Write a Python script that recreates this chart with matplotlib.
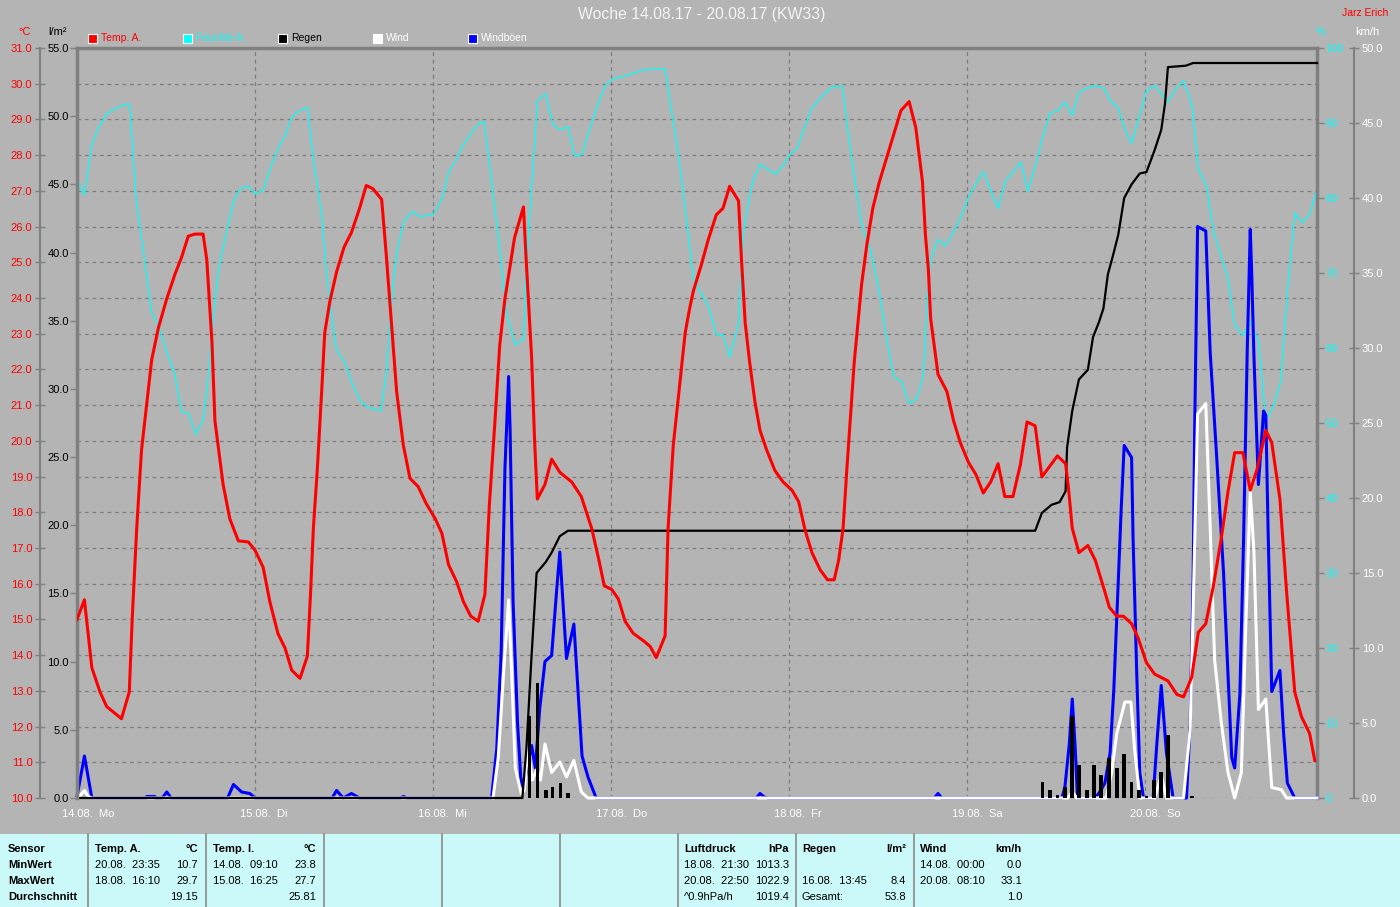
import matplotlib
matplotlib.use('Agg')
import matplotlib.pyplot as plt
from matplotlib.patches import Rectangle
from matplotlib.lines import Line2D
from matplotlib.transforms import ScaledTranslation
import numpy as np

# ---------------- data (hours since 14.08. 00:00) ----------------
day_labels = ['14.08.  Mo', '15.08.  Di', '16.08.  Mi', '17.08.  Do',
              '18.08.  Fr', '19.08.  Sa', '20.08.  So']

temp_h = [0, 1.0, 2.0, 3.1, 4.0, 6.0, 7.05, 7.46, 8.05, 8.7, 9.4, 10.07, 10.97, 12.1, 13.2,
          14.1, 15.0, 15.9, 17.0, 17.5, 18.2, 18.6, 19.2, 19.7, 20.6, 21.75, 23.1, 24.0, 25.1,
          26.0, 27.1, 28.05, 28.95, 30.07, 31.06, 31.5, 31.87, 32.4, 32.99, 33.4, 34.1, 35.0,
          36.0, 37.0, 38.1, 39.0, 39.9, 41.08, 41.7, 42.4, 43.1, 44.0, 44.9, 46.0, 47.1, 48.3,
          49.2, 50.1, 51.2, 52.1, 53.1, 54.1, 55.0, 55.6, 56.36, 57.0, 57.7, 59.0, 60.2, 60.6,
          61.3, 61.7, 62.07, 63.1, 64.0, 65.1, 66.7, 68.0, 69.4, 70.3, 71.1, 72.1, 73.0, 73.9,
          75.0, 76.4, 77.3, 78.1, 79.3, 79.7, 80.4, 81.1, 82.0, 82.6, 83.1, 84.2, 85.1, 86.2,
          87.1, 88.0, 89.2, 89.6, 90.1, 90.7, 91.4, 92.1, 93.0, 94.1, 95.2, 96.4, 97.3, 98.2,
          99.1, 100.2, 101.2, 102.1, 102.7, 103.3, 103.8, 104.3, 104.8, 105.3, 105.8, 106.5,
          107.3, 108.2, 109.4, 110.3, 111.1, 112.2, 113.1, 114.0, 114.4, 114.8, 115.1, 115.7,
          116.1, 117.3, 118.2, 119.1, 120.2, 121.2, 122.2, 123.2, 124.2, 125.1, 126.2, 127.2,
          128.1, 129.2, 130.1, 131.2, 132.2, 133.3, 133.7, 134.2, 135.1, 136.3, 137.3, 138.5,
          139.2, 140.2, 141.1, 142.2, 143.1, 144.2, 145.3, 147.1, 148.3, 149.2, 150.3, 151.2,
          152.2, 153.2, 154.3, 155.2, 156.1, 157.2, 158.2, 159.1, 160.3, 161.1, 162.2, 163.1,
          164.2, 165.1, 166.2, 166.9]
temp_c = [15.0, 15.55, 13.65, 12.97, 12.56, 12.22, 12.97, 15.09, 17.55, 19.74, 21.04, 22.27,
          23.16, 23.98, 24.66, 25.14, 25.73, 25.79, 25.79, 25.07, 22.75, 20.56, 19.6, 18.78,
          17.82, 17.2, 17.17, 16.94, 16.46, 15.5, 14.6, 14.2, 13.58, 13.35, 13.97, 15.77, 17.55,
          19.19, 21.38, 23.02, 23.91, 24.73, 25.42, 25.83, 26.51, 27.15, 27.06, 26.76, 25.21,
          23.3, 21.38, 19.88, 18.95, 18.72, 18.24, 17.82, 17.41, 16.53, 16.05, 15.5, 15.09,
          14.95, 15.7, 18.2, 20.56, 22.68, 23.98, 25.69, 26.55, 24.94, 22.34, 20.01, 18.37,
          18.78, 19.49, 19.12, 18.85, 18.44, 17.55, 16.73, 15.94, 15.84, 15.57, 14.95, 14.61,
          14.4, 14.24, 13.93, 14.54, 17.55, 19.88, 21.24, 23.02, 23.7, 24.19, 24.94, 25.62,
          26.33, 26.51, 27.13, 26.72, 25.07, 23.3, 22.2, 21.11, 20.29, 19.74, 19.17, 18.85,
          18.62, 18.3, 17.48, 16.87, 16.39, 16.11, 16.11, 16.66, 17.55, 19.19, 20.7, 22.2,
          23.3, 24.39, 25.49, 26.51, 27.26, 28.08, 28.7, 29.25, 29.5, 28.77, 27.26, 25.76,
          24.8, 23.43, 22.48, 21.86, 21.38, 20.56, 19.95, 19.4, 19.06, 18.54, 18.85, 19.36,
          18.44, 18.44, 19.33, 20.53, 20.42, 18.99, 19.3, 19.58, 19.36, 18.65, 17.55, 16.87,
          17.07, 16.66, 15.84, 15.34, 15.09, 15.09, 14.88, 14.47, 13.79, 13.47, 13.28, 12.9,
          12.83, 13.38, 14.64, 14.88, 15.91, 17.28, 18.58, 19.67, 19.67, 18.62, 19.19, 20.29,
          19.95, 18.37, 15.77, 12.97, 12.28, 11.81, 11.05]

hum_h = [0, 1.0, 2.0, 2.9, 4.0, 5.1, 6.5, 7.1, 8.0, 9.2, 10.0, 11.0, 12.1, 13.1, 14.1, 15.0,
         16.0, 17.0, 17.7, 18.4, 19.1, 20.2, 21.1, 22.0, 23.1, 24.0, 25.1, 26.0, 27.0, 28.1,
         28.9, 30.1, 31.1, 31.9, 33.0, 33.7, 34.1, 35.0, 36.1, 37.0, 38.2, 39.1, 40.1, 41.0,
         41.7, 42.2, 42.7, 43.2, 44.1, 45.3, 46.3, 48.1, 49.3, 50.1, 51.0, 51.9, 53.0, 54.1,
         54.9, 55.9, 57.0, 57.9, 59.1, 60.2, 60.6, 61.3, 62.1, 63.2, 64.1, 65.1, 66.2, 67.1,
         68.1, 69.3, 70.4, 71.3, 72.3, 74.3, 76.4, 79.3, 80.0, 81.1, 82.2, 83.1, 84.2, 85.1,
         86.2, 87.1, 88.0, 89.2, 89.8, 90.3, 91.2, 92.1, 93.2, 94.2, 95.2, 96.1, 97.1, 98.2,
         99.1, 100.2, 101.2, 102.1, 103.2, 103.8, 104.7, 105.8, 107.0, 108.1, 109.2, 110.1,
         111.2, 112.2, 113.2, 114.1, 114.7, 115.1, 116.1, 117.1, 118.2, 119.2, 120.2, 121.2,
         122.2, 123.2, 124.2, 125.2, 126.3, 127.3, 128.2, 129.2, 130.2, 131.2, 132.3, 133.2,
         134.2, 135.1, 136.1, 137.3, 138.5, 139.3, 140.4, 141.3, 142.2, 143.1, 144.2, 145.3,
         146.2, 147.1, 148.2, 149.2, 150.3, 151.2, 152.3, 153.2, 154.2, 155.2, 156.1, 157.2,
         158.2, 159.3, 160.3, 161.3, 162.3, 163.3, 164.2, 165.2, 166.3, 167.1]
hum_pct = [82.5, 80.4, 87.1, 89.4, 91.2, 91.9, 92.5, 92.5, 79.6, 71.1, 64.9, 63.0, 59.4, 56.8,
           51.5, 51.3, 48.5, 50.3, 56.2, 64.6, 70.5, 75.7, 79.6, 81.2, 81.6, 80.6, 81.0, 83.8,
           86.4, 88.4, 90.7, 91.7, 92.1, 84.8, 77.7, 69.2, 65.9, 59.7, 58.1, 55.5, 53.0, 52.1,
           51.9, 51.6, 56.8, 63.3, 69.2, 73.1, 77.0, 78.2, 77.5, 77.8, 80.1, 83.4, 84.9, 86.8,
           88.4, 89.9, 90.2, 82.2, 73.1, 64.6, 60.4, 61.2, 71.1, 81.6, 93.0, 93.9, 89.9, 89.1,
           89.5, 85.6, 85.8, 89.7, 93.0, 95.1, 95.9, 96.4, 97.1, 97.2, 92.6, 85.8, 77.0, 69.2,
           67.2, 65.6, 61.8, 61.8, 58.8, 63.3, 75.0, 78.3, 82.5, 84.5, 83.8, 83.2, 84.3, 85.8,
           86.6, 89.7, 92.0, 93.3, 94.3, 94.9, 94.9, 90.0, 83.5, 76.4, 73.1, 67.9, 61.0, 56.2,
           55.5, 52.6, 53.2, 56.2, 67.2, 71.8, 74.5, 73.6, 75.5, 77.5, 80.1, 81.9, 83.5, 81.0,
           78.6, 82.3, 83.6, 84.8, 80.9, 84.2, 88.1, 91.3, 91.7, 92.8, 91.0, 94.1, 94.6, 95.0,
           94.6, 93.0, 92.0, 89.1, 87.3, 90.4, 94.3, 95.0, 93.9, 92.8, 94.6, 95.6, 92.6, 83.8,
           81.6, 75.7, 72.4, 69.2, 63.0, 61.7, 63.5, 61.0, 50.3, 52.2, 55.5, 68.5, 78.0, 76.7,
           78.0, 80.9]

rain_sum_h = [0, 60.05, 60.6, 61.3, 61.97, 63.2, 64.0, 65.1, 66.2, 129.2, 130.1, 131.4, 132.5,
              133.3, 133.5, 134.2, 135.1, 136.3, 137.0, 137.8, 138.4, 139.0, 139.7, 140.4,
              141.2, 142.2, 143.3, 144.2, 145.3, 146.2, 146.7, 147.1, 149.5, 150.5, 167.2]
rain_sum = [0, 0, 3.65, 10.5, 16.5, 17.3, 18.0, 19.2, 19.6, 19.6, 20.9, 21.5, 21.7, 22.5, 25.7,
            28.4, 30.7, 31.4, 33.8, 34.9, 35.9, 38.4, 39.8, 41.3, 44.0, 45.0, 45.8, 45.9, 47.5,
            49.0, 50.9, 53.6, 53.7, 53.9, 53.9]

rain_bar_h = [61.0, 62.1, 63.2, 64.1, 65.2, 66.2, 130.2, 131.2, 132.2, 133.2, 134.2, 135.1,
              136.2, 137.1, 138.1, 139.2, 140.2, 141.2, 142.2, 143.2, 144.2, 145.2, 146.2,
              147.1, 150.3]
rain_bar = [6.0, 8.4, 0.6, 0.8, 1.1, 0.4, 1.15, 0.6, 0.25, 0.8, 6.0, 2.4, 0.6, 2.4, 1.7, 2.9,
            2.2, 3.2, 1.15, 0.6, 0.15, 1.3, 1.9, 4.6, 0.15]

wind_h = [0, 0.5, 1.0, 1.5, 2.0, 56.1, 56.8, 57.5, 58.2, 58.6, 59.1, 59.9, 60.3, 60.8, 61.4,
          62.0, 62.5, 63.1, 64.0, 65.1, 66.0, 67.0, 68.0, 68.9, 133.6, 134.2, 134.8, 138.8,
          139.5, 140.2, 141.3, 142.1, 142.6, 143.3, 145.3, 146.2, 146.9, 149.2, 150.1, 150.6,
          151.1, 152.2, 152.8, 153.4, 154.3, 155.2, 156.1, 157.0, 157.6, 158.2, 158.7, 159.3,
          160.3, 160.6, 161.1, 162.4, 163.1, 167.2]
wind_kmh = [0, 0.2, 0.5, 0.1, 0, 0, 2.7, 8.2, 13.2, 8.5, 2.0, 0.3, 0.5, 3.3, 1.2, 1.9, 1.2,
            3.6, 1.7, 2.4, 1.4, 2.5, 0.4, 0, 0, 0.4, 0, 0, 1.7, 4.3, 6.4, 6.4, 3.3, 0, 0, 1.5,
            0, 0, 4.6, 14.7, 25.6, 26.3, 18.0, 9.2, 5.0, 1.7, 0, 1.7, 11.5, 20.4, 16.4, 5.9,
            6.6, 4.3, 0.7, 0.55, 0, 0]

gust_h = [0, 1.0, 2.0, 9.3, 9.4, 10.5, 10.6, 11.5, 12.1, 12.7, 20.3, 21.1, 22.2, 23.3, 24.0,
          34.4, 35.0, 35.9, 37.0, 38.1, 43.6, 44.0, 44.5, 55.9, 56.6, 57.2, 57.7, 58.2, 58.4,
          58.8, 59.4, 59.9, 60.5, 61.3, 61.8, 62.4, 63.1, 64.0, 64.7, 65.1, 66.0, 67.0, 68.1,
          68.9, 70.0, 91.6, 92.1, 92.7, 93.2, 115.6, 116.1, 116.6, 132.8, 133.2, 133.8, 134.2,
          134.6, 134.9, 137.3, 137.9, 138.6, 139.3, 139.8, 140.4, 140.8, 141.2, 142.2, 142.4,
          142.9, 143.3, 143.8, 145.1, 145.6, 146.2, 146.9, 147.8, 149.6, 150.1, 150.5, 150.7,
          151.1, 152.2, 152.8, 153.7, 154.6, 155.2, 155.7, 156.1, 156.8, 157.3, 157.8, 158.2,
          158.4, 158.7, 159.3, 160.0, 160.3, 160.6, 161.1, 162.2, 162.7, 163.2, 164.2, 167.2]
gust_kmh = [0.1, 2.8, 0, 0, 0.1, 0.1, 0, 0, 0.4, 0, 0, 0.9, 0.4, 0.3, 0, 0, 0.5, 0, 0.3, 0, 0,
            0.1, 0, 0, 3.3, 9.8, 21.9, 28.1, 24.5, 13.1, 5.0, 0.8, 1.5, 3.5, 2.0, 6.0, 9.1, 9.5,
            14.0, 16.4, 9.3, 11.6, 2.8, 1.4, 0, 0, 0.3, 0.05, 0, 0, 0.3, 0, 0, 0.7, 3.6, 6.6,
            3.3, 0, 0, 0.4, 1.0, 3.0, 7.2, 14.4, 19.3, 23.5, 22.7, 17.3, 8.2, 1.7, 0, 0, 3.6,
            7.5, 3.0, 0, 0, 5.0, 14.7, 24.5, 38.1, 37.8, 29.7, 22.5, 15.0, 8.2, 2.7, 2.0, 6.9,
            17.3, 30.0, 37.9, 34.9, 29.4, 20.9, 25.8, 25.5, 18.0, 7.1, 8.5, 4.3, 1.0, 0, 0]

legend_names = ['Temp. A.', 'Feuchte A.', 'Regen', 'Wind', 'Windböen']
table_cols = [
    ('Temp. A.', '°C', ['20.08.  23:35', '18.08.  16:10', ''], ['10.7', '29.7', '19.15']),
    ('Temp. I.', '°C', ['14.08.  09:10', '15.08.  16:25', ''], ['23.8', '27.7', '25.81']),
    ('Luftdruck', 'hPa', ['18.08.  21:30', '20.08.  22:50', '^0.9hPa/h'], ['1013.3', '1022.9', '1019.4']),
    ('Regen', 'l/m²', ['', '16.08.  13:45', 'Gesamt:'], ['', '8.4', '53.8']),
    ('Wind', 'km/h', ['14.08.  00:00', '20.08.  08:10', ''], ['0.0', '33.1', '1.0']),
]
row_names = ['Sensor', 'MinWert', 'MaxWert', 'Durchschnitt']

# ---------------- styling ----------------
plt.rcParams['font.family'] = ['Liberation Sans', 'DejaVu Sans']
BG = '#b4b4b4'
GRID = '#7c7c7c'
SPINE = '#808080'
W, H = 1400, 907

def fx(px):
    return px / W

def fy(py):
    return 1 - py / H

fig = plt.figure(figsize=(14, 9.07), dpi=100)
fig.patch.set_facecolor(BG)

L, R, T, B = 77, 1317, 48, 798
ax = fig.add_axes([fx(L), fy(B), fx(R - L), (B - T) / H])
ax.set_facecolor(BG)
XMAX = 167.2
ax.set_xlim(0, XMAX)

# temperature axis (outer left)
ax.set_ylim(10, 31)
tt = np.arange(10, 31.01, 1.0)
ax.set_yticks(tt)
ax.set_yticklabels([f'{v:.1f}' for v in tt])
ax.tick_params(axis='y', direction='inout', length=7, width=1, color=SPINE,
               labelcolor='red', labelsize=8, pad=2)
ax.spines['left'].set_position(('axes', (40 - L) / (R - L)))
ax.spines['left'].set_color(SPINE)
ax.spines['left'].set_linewidth(1.5)
ax.spines['right'].set_visible(False)
ax.spines['top'].set_color(SPINE)
ax.spines['top'].set_linewidth(2.5)
ax.spines['bottom'].set_visible(False)
ax.grid(True, axis='both', color=GRID, linestyle=(0, (3, 3)), linewidth=0.9)
ax.set_axisbelow(True)

# x ticks = day starts
ax.set_xticks(np.arange(0, 7) * 24)
ax.set_xticklabels(day_labels)
ax.tick_params(axis='x', length=0, labelcolor='white', labelsize=8, pad=8)
off = ScaledTranslation(-15 / 100, 0, fig.dpi_scale_trans)
for lab in ax.get_xticklabels():
    lab.set_horizontalalignment('left')
    lab.set_transform(lab.get_transform() + off)

# humidity axis (right at plot edge)
ax_h = ax.twinx()
ax_h.set_ylim(0, 100)
ht = np.arange(0, 101, 10)
ax_h.set_yticks(ht)
ax_h.set_yticklabels([f'{v:d}' for v in ht])
ax_h.tick_params(axis='y', direction='out', length=5, width=1, color=SPINE,
                 labelcolor='#00ffff', labelsize=8, pad=1)
for s in ['left', 'top', 'bottom']:
    ax_h.spines[s].set_visible(False)
ax_h.spines['right'].set_color(SPINE)
ax_h.spines['right'].set_linewidth(2.5)
ax_h.plot(hum_h, hum_pct, color='#00ffff', lw=0.9)

# wind axis (outer right)
ax_w = ax.twinx()
ax_w.set_ylim(0, 50)
wt = np.arange(0, 50.01, 5)
ax_w.set_yticks(wt)
ax_w.set_yticklabels([f'{v:.1f}' for v in wt])
ax_w.tick_params(axis='y', direction='inout', length=7, width=1, color=SPINE,
                 labelcolor='white', labelsize=8, pad=2)
for s in ['left', 'top', 'bottom']:
    ax_w.spines[s].set_visible(False)
ax_w.spines['right'].set_position(('axes', (1354 - L) / (R - L)))
ax_w.spines['right'].set_color(SPINE)
ax_w.spines['right'].set_linewidth(1.5)
ax_w.plot(gust_h, gust_kmh, color='#0000ff', lw=2.2, clip_on=False)
ax_w.plot(wind_h, wind_kmh, color='white', lw=2.2, clip_on=False)

# rain axis (left at plot edge)
ax_r = ax.twinx()
ax_r.set_ylim(0, 55)
rt = np.arange(0, 55.01, 5)
ax_r.yaxis.set_ticks_position('left')
ax_r.set_yticks(rt)
ax_r.set_yticklabels([f'{v:.1f}' for v in rt])
ax_r.tick_params(axis='y', direction='out', length=5, width=1, color=SPINE,
                 labelcolor='black', labelsize=8, pad=1)
for s in ['right', 'top', 'bottom']:
    ax_r.spines[s].set_visible(False)
ax_r.spines['left'].set_visible(True)
ax_r.spines['left'].set_color(SPINE)
ax_r.spines['left'].set_linewidth(2.5)
ax_r.bar(rain_bar_h, rain_bar, width=0.5, color='black', linewidth=0)
ax_r.plot(rain_sum_h, rain_sum, color='black', lw=1.6, clip_on=False)

# temperature line
ax_t = ax.twinx()
ax_t.set_ylim(10, 31)
ax_t.set_yticks([])
for s in ax_t.spines.values():
    s.set_visible(False)
ax_t.plot(temp_h, temp_c, color='red', lw=2.2)

for a in (ax, ax_h, ax_w, ax_r, ax_t):
    a.set_xlim(0, XMAX)

# ---------------- titles / labels ----------------
fig.text(fx(702), fy(15), 'Woche 14.08.17 - 20.08.17 (KW33)', color='#f4f4f4',
         fontsize=11.3, ha='center', va='center')
fig.text(fx(1388), fy(12.5), 'Jarz Erich', color='red', fontsize=7.5, ha='right', va='center')
fig.text(fx(25), fy(32), '°C', color='red', fontsize=8, ha='center', va='center')
fig.text(fx(58), fy(32), 'l/m²', color='black', fontsize=8, ha='center', va='center')
fig.text(fx(1321), fy(32), '%', color='#00ffff', fontsize=8, ha='center', va='center')
fig.text(fx(1367), fy(32), 'km/h', color='white', fontsize=8, ha='center', va='center')

# legend
leg_colors = ['red', '#00ffff', 'black', 'white', '#0000ff']
leg_text_colors = ['red', '#00ffff', 'black', 'white', 'white']
leg_x = [88, 183, 278, 373, 468]
for name, c, tc, x0 in zip(legend_names, leg_colors, leg_text_colors, leg_x):
    fig.add_artist(Rectangle((fx(x0), fy(43)), 9 / W, 9 / H, transform=fig.transFigure,
                             facecolor=c, edgecolor='white', linewidth=0.8))
    fig.text(fx(x0 + 13), fy(38), name, color=tc, fontsize=7.5, ha='left', va='center')

# ---------------- bottom table ----------------
fig.add_artist(Rectangle((0, 0), 1, fy(834), transform=fig.transFigure,
                         facecolor='#cbf9f9', edgecolor='none'))
for xs in [88, 206, 324, 442, 560, 678, 796, 914]:
    fig.add_artist(Line2D([fx(xs), fx(xs)], [0, fy(834)], transform=fig.transFigure,
                          color='#8a8a8a', lw=1.2))
row_y = [849, 865, 881, 897]
for i, rn in enumerate(row_names):
    fig.text(fx(8), fy(row_y[i]), rn, fontsize=8, fontweight='bold', color='black',
             ha='left', va='center')
col_left = [95, 213, 684, 802, 920]
col_right = [198, 316, 789, 906, 1022]
for (head, unit, dates, vals), xl, xr in zip(table_cols, col_left, col_right):
    fig.text(fx(xl), fy(row_y[0]), head, fontsize=8, fontweight='bold', ha='left', va='center')
    fig.text(fx(xr), fy(row_y[0]), unit, fontsize=8, fontweight='bold', ha='right', va='center')
    for j in range(3):
        if dates[j]:
            fig.text(fx(xl), fy(row_y[j + 1]), dates[j], fontsize=8, ha='left', va='center')
        if vals[j]:
            fig.text(fx(xr), fy(row_y[j + 1]), vals[j], fontsize=8, ha='right', va='center')

fig.savefig('out.png', dpi=100, facecolor=fig.get_facecolor())
